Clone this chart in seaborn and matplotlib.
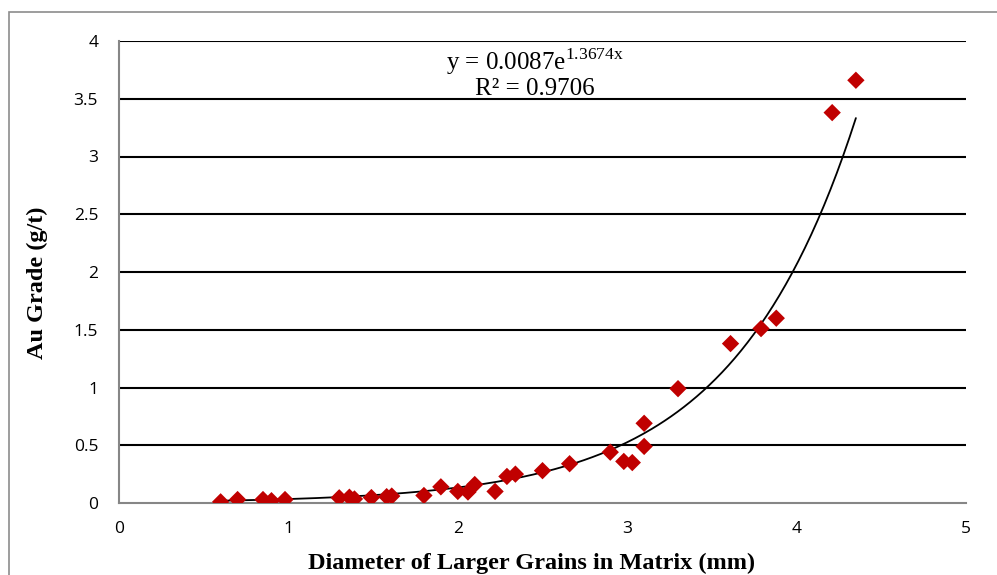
import numpy as np
import pandas as pd
import matplotlib
matplotlib.use("Agg")
import matplotlib.pyplot as plt
import seaborn as sns

# ---- data ----
diameter_mm = [0.60, 0.70, 0.85, 0.90, 0.98, 1.30, 1.36, 1.39, 1.49, 1.58, 1.61,
               1.80, 1.90, 2.00, 2.06, 2.10, 2.22, 2.29, 2.34, 2.50, 2.66, 2.90,
               2.98, 3.03, 3.10, 3.10, 3.30, 3.61, 3.79, 3.88, 4.21, 4.35]
au_grade = [0.01, 0.03, 0.03, 0.02, 0.03, 0.045, 0.05, 0.035, 0.047, 0.055, 0.06,
            0.065, 0.14, 0.10, 0.095, 0.16, 0.10, 0.23, 0.25, 0.28, 0.34, 0.44,
            0.36, 0.35, 0.69, 0.49, 0.99, 1.38, 1.51, 1.60, 3.38, 3.66]
fit_a = 0.0087
fit_b = 1.3674
fit_r2 = 0.9706
x_ticks = [0, 1, 2, 3, 4, 5]
y_ticks = [0, 0.5, 1, 1.5, 2, 2.5, 3, 3.5, 4]
y_tick_labels = ["0", "0.5", "1", "1.5", "2", "2.5", "3", "3.5", "4"]

df = pd.DataFrame({"x": diameter_mm, "y": au_grade})
fit_x = np.linspace(min(diameter_mm), max(diameter_mm), 300)
fit_df = pd.DataFrame({"x": fit_x, "y": fit_a * np.exp(fit_b * fit_x)})

sns.set_theme(style="white")
plt.rcParams["font.family"] = ["Open Sans", "DejaVu Sans"]
plt.rcParams["text.color"] = "black"
plt.rcParams["axes.labelcolor"] = "black"

fig = plt.figure(figsize=(9.97, 5.75), dpi=100)
ax = fig.add_axes([119 / 997, 1 - 503 / 575, (966 - 119) / 997, (503 - 41) / 575])

# outer chart border
border = plt.Rectangle((9 / 997, -0.05), 1.2, 1 - 12 / 575 + 0.05,
                       transform=fig.transFigure, fill=False,
                       edgecolor="#8c8c8c", linewidth=1.2, zorder=-5)
fig.patches.append(border)

gray = "#868686"
for yv in y_ticks[1:]:
    ax.axhline(yv, color="black", linewidth=1.5, zorder=1)

sns.lineplot(data=fit_df, x="x", y="y", ax=ax, color="black", linewidth=1.3,
             zorder=3, legend=False)
sns.scatterplot(data=df, x="x", y="y", ax=ax, marker="D", s=78,
                color="#C00000", edgecolor="none", zorder=4, legend=False)

ax.set_xlim(0, 5)
ax.set_ylim(0, 4)
ax.set_xticks(x_ticks)
ax.set_xticklabels([str(t) for t in x_ticks])
ax.set_yticks(y_ticks)
ax.set_yticklabels(y_tick_labels)
ax.tick_params(axis="both", which="major", direction="out", length=5, width=1.2,
               color=gray, labelsize=12.5, labelcolor="black")
ax.tick_params(axis="x", pad=8)
ax.tick_params(axis="y", pad=10)

for side in ["top", "right"]:
    ax.spines[side].set_visible(False)
for side in ["left", "bottom"]:
    ax.spines[side].set_color(gray)
    ax.spines[side].set_linewidth(1.5)

ax.set_xlabel("Diameter of Larger Grains in Matrix (mm)", fontsize=17.5,
              fontweight="bold", family=["Liberation Serif"], color="black")
ax.set_ylabel("Au Grade (g/t)", fontsize=17.5, fontweight="bold",
              family=["Liberation Serif"], color="black")
ax.xaxis.set_label_coords((532 - 119) / 847, -(563 - 503) / 462)
ax.yaxis.set_label_coords(-(119 - 37) / 847, (503 - 283) / 462)
ax.xaxis.label.set_va("center")
ax.yaxis.label.set_va("center")

ax.text(0.491, 0.955, r"y = 0.0087e$^{\mathregular{1.3674x}}$", transform=ax.transAxes,
        ha="center", va="center", fontsize=18, family=["Liberation Serif"],
        color="black")
ax.text(0.491, 0.896, f"R² = {fit_r2:.4f}", transform=ax.transAxes,
        ha="center", va="center", fontsize=18, family=["Liberation Serif"],
        color="black")

fig.savefig("out.png", dpi=100)
